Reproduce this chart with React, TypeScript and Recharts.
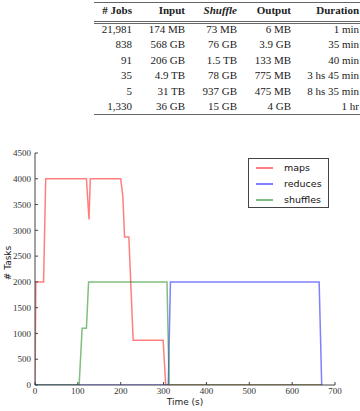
import React from 'react';
import { LineChart, Line, XAxis, YAxis, Legend, Label } from 'recharts';

// ---- Table data ----
const tableHeaders = ['# Jobs', 'Input', 'Shuffle', 'Output', 'Duration'];
const jobsCol = ['21,981', '838', '91', '35', '5', '1,330'];
const inputCol = ['174 MB', '568 GB', '206 GB', '4.9 TB', '31 TB', '36 GB'];
const shuffleCol = ['73 MB', '76 GB', '1.5 TB', '78 GB', '937 GB', '15 GB'];
const outputCol = ['6 MB', '3.9 GB', '133 MB', '775 MB', '475 MB', '4 GB'];
const durationCol = ['1 min', '35 min', '40 min', '3 hs 45 min', '8 hs 35 min', '1 hr'];

// ---- Chart data ----
const seriesNames = ['maps', 'reduces', 'shuffles'];
const mapsTime = [0, 2, 20, 25, 120, 126, 129, 200, 205, 209, 219, 229, 299, 305, 670];
const mapsTasks = [0, 2000, 2000, 4000, 4000, 3210, 4000, 4000, 3650, 2870, 2870, 870, 870, 0, 0];
const reducesTime = [0, 311, 316, 663, 669];
const reducesTasks = [0, 0, 2000, 2000, 0];
const shufflesTime = [0, 103, 110, 120, 125, 308, 313, 670];
const shufflesTasks = [0, 0, 1100, 1100, 2000, 2000, 0, 0];
const xTicks = [0, 100, 200, 300, 400, 500, 600, 700];
const yTicks = [0, 500, 1000, 1500, 2000, 2500, 3000, 3500, 4000, 4500];

const zip = (ts: number[], vs: number[]) => ts.map((t, i) => ({ t, v: vs[i] }));
const mapsData = zip(mapsTime, mapsTasks);
const reducesData = zip(reducesTime, reducesTasks);
const shufflesData = zip(shufflesTime, shufflesTasks);

const COLORS: Record<string, string> = { maps: '#ff0000', reduces: '#0000ff', shuffles: '#008000' };

const colRight = [132, 185, 237, 291, 359];
const headerY = 10;
const rowY = [29, 44.4, 59.8, 75.2, 90.6, 106];

function Cell({ text, right, cy, bold, italic }: any) {
  return (
    <div
      style={{
        position: 'absolute',
        right: 360 - right,
        top: cy - 7,
        height: 14,
        lineHeight: '14px',
        whiteSpace: 'nowrap',
        fontWeight: bold ? 'bold' : 'normal',
        fontStyle: italic ? 'italic' : 'normal',
      }}
    >
      {text}
    </div>
  );
}

function Table() {
  const cols = [jobsCol, inputCol, shuffleCol, outputCol, durationCol];
  const rule = (y: number) => (
    <div style={{ position: 'absolute', left: 94, top: y, width: 266, height: 1, background: '#666' }} />
  );
  return (
    <div
      style={{
        position: 'absolute',
        left: 0,
        top: 0,
        width: 360,
        height: 130,
        overflow: 'hidden',
        fontFamily: '"Liberation Serif", serif',
        fontSize: 11,
        color: '#222',
      }}
    >
      {rule(1.5)}
      {rule(20.5)}
      {rule(22.5)}
      {rule(114)}
      {tableHeaders.map((h, c) => (
        <Cell key={'h' + c} text={h} right={colRight[c]} cy={headerY} bold italic={h === 'Shuffle'} />
      ))}
      {cols.map((col, c) =>
        col.map((v, r) => <Cell key={c + '-' + r} text={v} right={colRight[c]} cy={rowY[r]} />)
      )}
    </div>
  );
}

const renderLegend = (props: any) => {
  const payload = props.payload || [];
  return (
    <div
      style={{
        position: 'relative',
        width: 81,
        height: 50,
        border: '1px solid #444',
        boxSizing: 'border-box',
        background: '#fff',
        fontFamily: '"DejaVu Sans", sans-serif',
        fontSize: 9.5,
        color: '#111',
      }}
    >
      {seriesNames.map((name, i) => (
        <React.Fragment key={name}>
          <div
            style={{
              position: 'absolute',
              left: 7,
              top: 8 + i * 16,
              width: 17,
              height: 1.5,
              background: COLORS[name],
              opacity: 0.5,
            }}
          />
          <div style={{ position: 'absolute', left: 35, top: 2 + i * 16, lineHeight: '14px' }}>
            {payload[i] ? payload[i].value : name}
          </div>
        </React.Fragment>
      ))}
    </div>
  );
};

const tickStyle = { fontFamily: '"Liberation Serif", serif', fontSize: 9, fill: '#333' };
const axisLineStyle = { stroke: '#444', strokeWidth: 1 };

const renderYLabel = (props: any) => {
  const vb = props.viewBox || { x: 5, y: 13, width: 30, height: 232 };
  const x = vb.x + 3;
  const y = vb.y + vb.height / 2 - 6;
  return (
    <text
      x={x}
      y={y}
      transform={`rotate(-90, ${x}, ${y})`}
      textAnchor="middle"
      dominantBaseline="central"
      style={{ fontFamily: '"DejaVu Sans", sans-serif', fontSize: 9, fill: '#222' }}
    >
      # Tasks
    </text>
  );
};

export default function App() {
  return (
    <div style={{ position: 'absolute', left: 0, top: 0, width: 360, height: 411, background: '#fff', overflow: 'hidden' }}>
      <Table />
      <div style={{ position: 'absolute', left: 0, top: 140 }}>
        <LineChart width={360} height={271} margin={{ top: 13, right: 25, bottom: 0, left: 5 }}>
          <XAxis
            xAxisId="b"
            dataKey="t"
            type="number"
            domain={[0, 700]}
            ticks={xTicks}
            allowDataOverflow
            orientation="bottom"
            height={26}
            tickSize={-3}
            tickMargin={6}
            tick={tickStyle}
            axisLine={axisLineStyle}
            tickLine={{ stroke: '#444' }}
          >
            <Label
              value="Time (s)"
              position="insideBottom"
              offset={6}
              style={{ fontFamily: '"DejaVu Sans", sans-serif', fontSize: 9, fill: '#222' }}
            />
          </XAxis>
          <XAxis
            xAxisId="t"
            dataKey="t"
            type="number"
            domain={[0, 700]}
            ticks={xTicks}
            orientation="top"
            height={0}
            tickSize={-3}
            tick={false}
            axisLine={axisLineStyle}
            tickLine={{ stroke: '#444' }}
          />
          <YAxis
            yAxisId="l"
            type="number"
            domain={[0, 4500]}
            ticks={yTicks}
            allowDataOverflow
            orientation="left"
            width={30}
            tickSize={-3}
            tickMargin={7}
            tick={tickStyle}
            axisLine={axisLineStyle}
            tickLine={{ stroke: '#444' }}
          >
            <Label content={renderYLabel} />
          </YAxis>
          <YAxis
            yAxisId="r"
            type="number"
            domain={[0, 4500]}
            ticks={yTicks}
            orientation="right"
            width={0}
            tickSize={-3}
            tick={false}
            axisLine={axisLineStyle}
            tickLine={{ stroke: '#444' }}
          />
          <Legend
            content={renderLegend}
            layout="vertical"
            align="center"
            verticalAlign="middle"
            wrapperStyle={{ position: 'absolute', left: 248, top: 18, width: 81, height: 50 }}
          />
          <Line
            name="maps"
            data={mapsData}
            dataKey="v"
            xAxisId="b"
            yAxisId="l"
            type="linear"
            stroke={COLORS.maps}
            strokeOpacity={0.5}
            strokeWidth={1.5}
            dot={false}
            isAnimationActive={false}
          />
          <Line
            name="reduces"
            data={reducesData}
            dataKey="v"
            xAxisId="b"
            yAxisId="l"
            type="linear"
            stroke={COLORS.reduces}
            strokeOpacity={0.5}
            strokeWidth={1.5}
            dot={false}
            isAnimationActive={false}
          />
          <Line
            name="shuffles"
            data={shufflesData}
            dataKey="v"
            xAxisId="b"
            yAxisId="l"
            type="linear"
            stroke={COLORS.shuffles}
            strokeOpacity={0.5}
            strokeWidth={1.5}
            dot={false}
            isAnimationActive={false}
          />
        </LineChart>
      </div>
    </div>
  );
}
